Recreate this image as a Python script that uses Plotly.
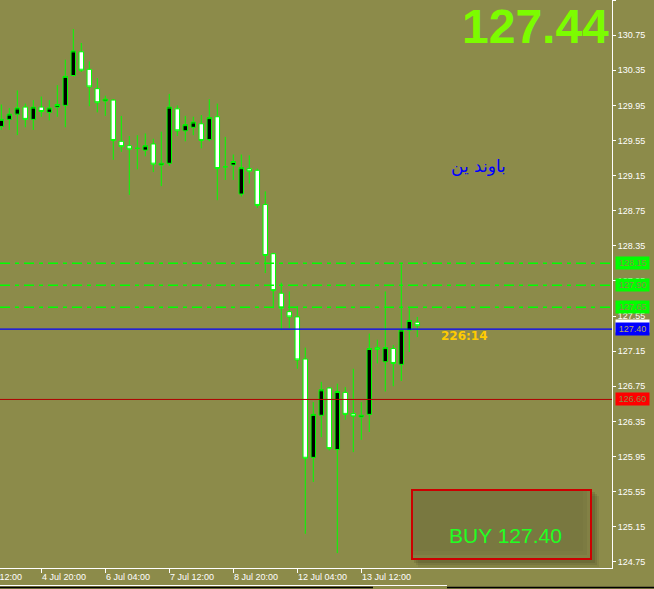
import plotly.graph_objects as go

# ---------------- data ----------------
bar_index = list(range(53))
opens = [129.71, 129.79, 129.85, 129.93, 129.79, 129.93, 129.87, 129.93, 129.95, 130.29,
         130.56, 130.36, 130.14, 130.00, 130.01, 129.54, 129.49, 129.46, 129.44, 129.51,
         129.27, 129.29, 129.91, 129.66, 129.70, 129.74, 129.56, 129.82, 129.25, 129.27,
         128.94, 129.23, 129.21, 128.82, 128.26, 127.81, 127.60, 127.54, 127.06, 125.94,
         126.42, 126.73, 126.03, 126.68, 126.44, 126.40, 126.43, 127.19, 127.03, 127.18,
         127.00, 127.39, 127.48]
highs = [129.96, 129.92, 130.12, 129.97, 130.01, 130.05, 130.01, 130.18, 130.47, 130.82,
         130.66, 130.45, 130.26, 130.06, 130.02, 129.83, 129.60, 129.61, 129.63, 129.57,
         129.65, 130.08, 129.95, 129.83, 129.82, 129.84, 130.02, 129.97, 129.59, 129.39,
         129.39, 129.38, 129.23, 128.97, 128.27, 127.93, 127.83, 127.66, 127.19, 126.57,
         126.80, 126.74, 126.78, 126.74, 126.95, 126.57, 127.35, 127.28, 127.83, 127.22,
         128.14, 127.64, 127.54]
lows = [129.67, 129.67, 129.61, 129.70, 129.67, 129.82, 129.78, 129.82, 129.70, 130.28,
        130.33, 129.94, 129.87, 129.83, 129.33, 129.42, 128.93, 129.22, 129.37, 129.19,
        129.03, 129.26, 129.60, 129.54, 129.61, 129.46, 129.54, 128.87, 129.10, 129.10,
        128.91, 129.06, 128.78, 128.04, 127.64, 127.39, 127.41, 126.95, 125.07, 125.66,
        126.17, 126.02, 124.85, 126.37, 126.00, 126.14, 126.23, 127.01, 126.69, 126.75,
        126.81, 127.14, 127.31]
closes = [129.79, 129.85, 129.92, 129.79, 129.93, 129.88, 129.92, 129.96, 130.28, 130.57,
          130.35, 130.16, 129.98, 130.02, 129.55, 129.48, 129.45, 129.46, 129.49, 129.28,
          129.29, 129.93, 129.66, 129.73, 129.76, 129.55, 129.81, 129.23, 129.25, 129.31,
          129.24, 129.20, 128.81, 128.24, 127.84, 127.64, 127.54, 127.05, 125.93, 126.43,
          126.71, 126.04, 126.69, 126.43, 126.41, 126.42, 127.18, 127.17, 127.19, 127.01,
          127.39, 127.50, 127.44]

time_ticks = [-3, 5, 13, 21, 29, 37, 45]
time_labels = ["1 Jul 12:00", "4 Jul 20:00", "6 Jul 04:00", "7 Jul 12:00",
               "8 Jul 20:00", "12 Jul 04:00", "13 Jul 12:00"]

price_ticks = [124.75, 125.15, 125.55, 125.95, 126.35, 126.75, 127.15, 127.55,
               127.95, 128.35, 128.75, 129.15, 129.55, 129.95, 130.35, 130.75, 131.15]

green_levels = [128.15, 127.90, 127.65]
bid_price = 127.44
buy_price = 127.40
stop_price = 126.60
timer_text = "226:14"
symbol_text = "باوند ين"
order_text = "BUY 127.40"

# ---------------- style ----------------
BG = "#8C8B4A"
W, H = 654, 589
PW, PH = 612, 568          # plot area in pixels
X_MIN, X_MAX = -0.1625, 76.34
Y_MIN, Y_MAX = 124.68, 131.15


def xp(px):
    return px / PW


def yp(py):
    return 1 - py / PH


fig = go.Figure()
fig.add_trace(go.Candlestick(
    x=bar_index, open=opens, high=highs, low=lows, close=closes,
    increasing=dict(fillcolor="black", line=dict(color="#00FF00", width=1)),
    decreasing=dict(fillcolor="white", line=dict(color="#00FF00", width=1)),
    whiskerwidth=0, showlegend=False, hoverinfo="skip"))

shapes = []
for lv in green_levels:
    shapes.append(dict(type="line", xref="paper", x0=0, x1=1, yref="y", y0=lv, y1=lv,
                       line=dict(color="#00FF00", width=1.5, dash="10px,5px,4px,5px"), layer="above"))
shapes.append(dict(type="line", xref="paper", x0=0, x1=1, yref="y", y0=buy_price, y1=buy_price,
                   line=dict(color="#0000FF", width=1.3), layer="above"))
shapes.append(dict(type="line", xref="paper", x0=0, x1=1, yref="y", y0=stop_price, y1=stop_price,
                   line=dict(color="#B00000", width=1), layer="above"))

# order box with soft shadow
for k, a in [(7, 0.10), (5, 0.14), (3, 0.18)]:
    shapes.append(dict(type="rect", xref="paper", yref="paper",
                       x0=xp(411 + k), x1=xp(592 + k), y0=yp(560 + k), y1=yp(489 + k),
                       line=dict(width=0), fillcolor=f"rgba(60,60,25,{a})", layer="above"))
shapes.append(dict(type="rect", xref="paper", yref="paper",
                   x0=xp(411), x1=xp(592), y0=yp(560), y1=yp(489),
                   line=dict(width=0), fillcolor=BG, layer="above"))
for k, a in [(2, 0.14), (5, 0.08), (9, 0.05)]:
    shapes.append(dict(type="rect", xref="paper", yref="paper",
                       x0=xp(411), x1=xp(592 - k), y0=yp(560 - k), y1=yp(489),
                       line=dict(width=0), fillcolor=f"rgba(70,70,40,{a})", layer="above"))
shapes.append(dict(type="rect", xref="paper", yref="paper",
                   x0=xp(412), x1=xp(591), y0=yp(559), y1=yp(490),
                   line=dict(color="#CC0000", width=2), fillcolor="rgba(0,0,0,0)", layer="above"))

# window frame lines at bottom
shapes.append(dict(type="line", xref="paper", yref="paper", x0=0, x1=xp(447), y0=yp(585.5), y1=yp(585.5),
                   line=dict(color="white", width=1)))
shapes.append(dict(type="line", xref="paper", yref="paper", x0=0, x1=xp(373), y0=yp(587.5), y1=yp(587.5),
                   line=dict(color="black", width=1.5)))
shapes.append(dict(type="line", xref="paper", yref="paper", x0=xp(447), x1=xp(654), y0=yp(587.5), y1=yp(587.5),
                   line=dict(color="black", width=1.5)))

ann = []
# time labels to the right of their ticks
for t, lab in zip(time_ticks, time_labels):
    ann.append(dict(xref="paper", yref="paper", x=(t - X_MIN) / (X_MAX - X_MIN), y=yp(577),
                    xanchor="left", yanchor="middle", xshift=-1, showarrow=False, text=lab,
                    font=dict(family="Liberation Sans", size=9, color="white")))

# right-side price boxes
box_font = dict(family="Liberation Sans", size=9, color=BG)
for lv in green_levels:
    ann.append(dict(xref="paper", yref="y", x=1, y=lv, xanchor="left", yanchor="middle", xshift=3,
                    showarrow=False, text=f"{lv:.2f}", bgcolor="#00FF00", width=31, height=10,
                    borderpad=1, font=box_font))
ann.append(dict(xref="paper", yref="y", x=1, y=bid_price, xanchor="left", yanchor="middle", xshift=3,
                showarrow=False, text=f"{bid_price:.2f}", bgcolor="white", width=31, height=10,
                borderpad=1, font=dict(family="Liberation Sans", size=9, color="#BBBBBB")))
ann.append(dict(xref="paper", yref="y", x=1, y=buy_price, xanchor="left", yanchor="middle", xshift=3,
                showarrow=False, text=f"{buy_price:.2f}", bgcolor="#0000FF", width=31, height=10,
                borderpad=1, font=dict(family="Liberation Sans", size=9, color="#B8A860")))
ann.append(dict(xref="paper", yref="y", x=1, y=stop_price, xanchor="left", yanchor="middle", xshift=3,
                showarrow=False, text=f"{stop_price:.2f}", bgcolor="#FF0000", width=31, height=10,
                borderpad=1, font=dict(family="Liberation Sans", size=9, color=BG)))

# big bid price
ann.append(dict(xref="paper", yref="paper", x=xp(611), y=yp(27), xanchor="right", yanchor="middle",
                showarrow=False, text=f"<b>{bid_price:.2f}</b>",
                font=dict(family="Liberation Sans", size=48, color="#7CFC00")))
# symbol name
ann.append(dict(xref="paper", yref="paper", x=xp(478), y=yp(166), xanchor="center", yanchor="middle",
                showarrow=False, text=symbol_text,
                font=dict(family="DejaVu Sans", size=17, color="#0000FF")))
# candle timer
ann.append(dict(xref="paper", yref="y", x=xp(439), y=buy_price, xanchor="left", yanchor="middle",
                yshift=-7, showarrow=False, text=f"<b>{timer_text}</b>",
                font=dict(family="DejaVu Sans", size=12, color="#FFCC00")))
# order text
ann.append(dict(xref="paper", yref="paper", x=xp(505.5), y=yp(535), xanchor="center", yanchor="middle",
                showarrow=False, text=order_text,
                font=dict(family="Liberation Sans", size=21, color="#22FF22")))

fig.update_layout(
    width=W, height=H,
    margin=dict(l=0, r=W - PW, t=0, b=H - PH, autoexpand=False),
    paper_bgcolor=BG, plot_bgcolor=BG,
    showlegend=False,
    boxgap=0.3, boxgroupgap=0.2,
    shapes=shapes, annotations=ann,
    xaxis=dict(range=[X_MIN, X_MAX], showgrid=False, zeroline=False, rangeslider=dict(visible=False),
               showline=True, linecolor="white", linewidth=1,
               tickmode="array", tickvals=time_ticks, showticklabels=False,
               ticks="outside", ticklen=4, tickcolor="white", tickwidth=1),
    yaxis=dict(range=[Y_MIN, Y_MAX], side="right", showgrid=False, zeroline=False,
               showline=True, linecolor="white", linewidth=1,
               tickmode="array", tickvals=price_ticks, ticktext=[f"{v:.2f}" for v in price_ticks],
               ticks="outside", ticklen=3, tickcolor="white", tickwidth=1,
               tickfont=dict(family="Liberation Sans", size=9, color="white")),
)

fig.write_html("out.html", config={"displayModeBar": False},
               post_script="document.body.style.margin='0px';document.body.style.overflow='hidden';")
